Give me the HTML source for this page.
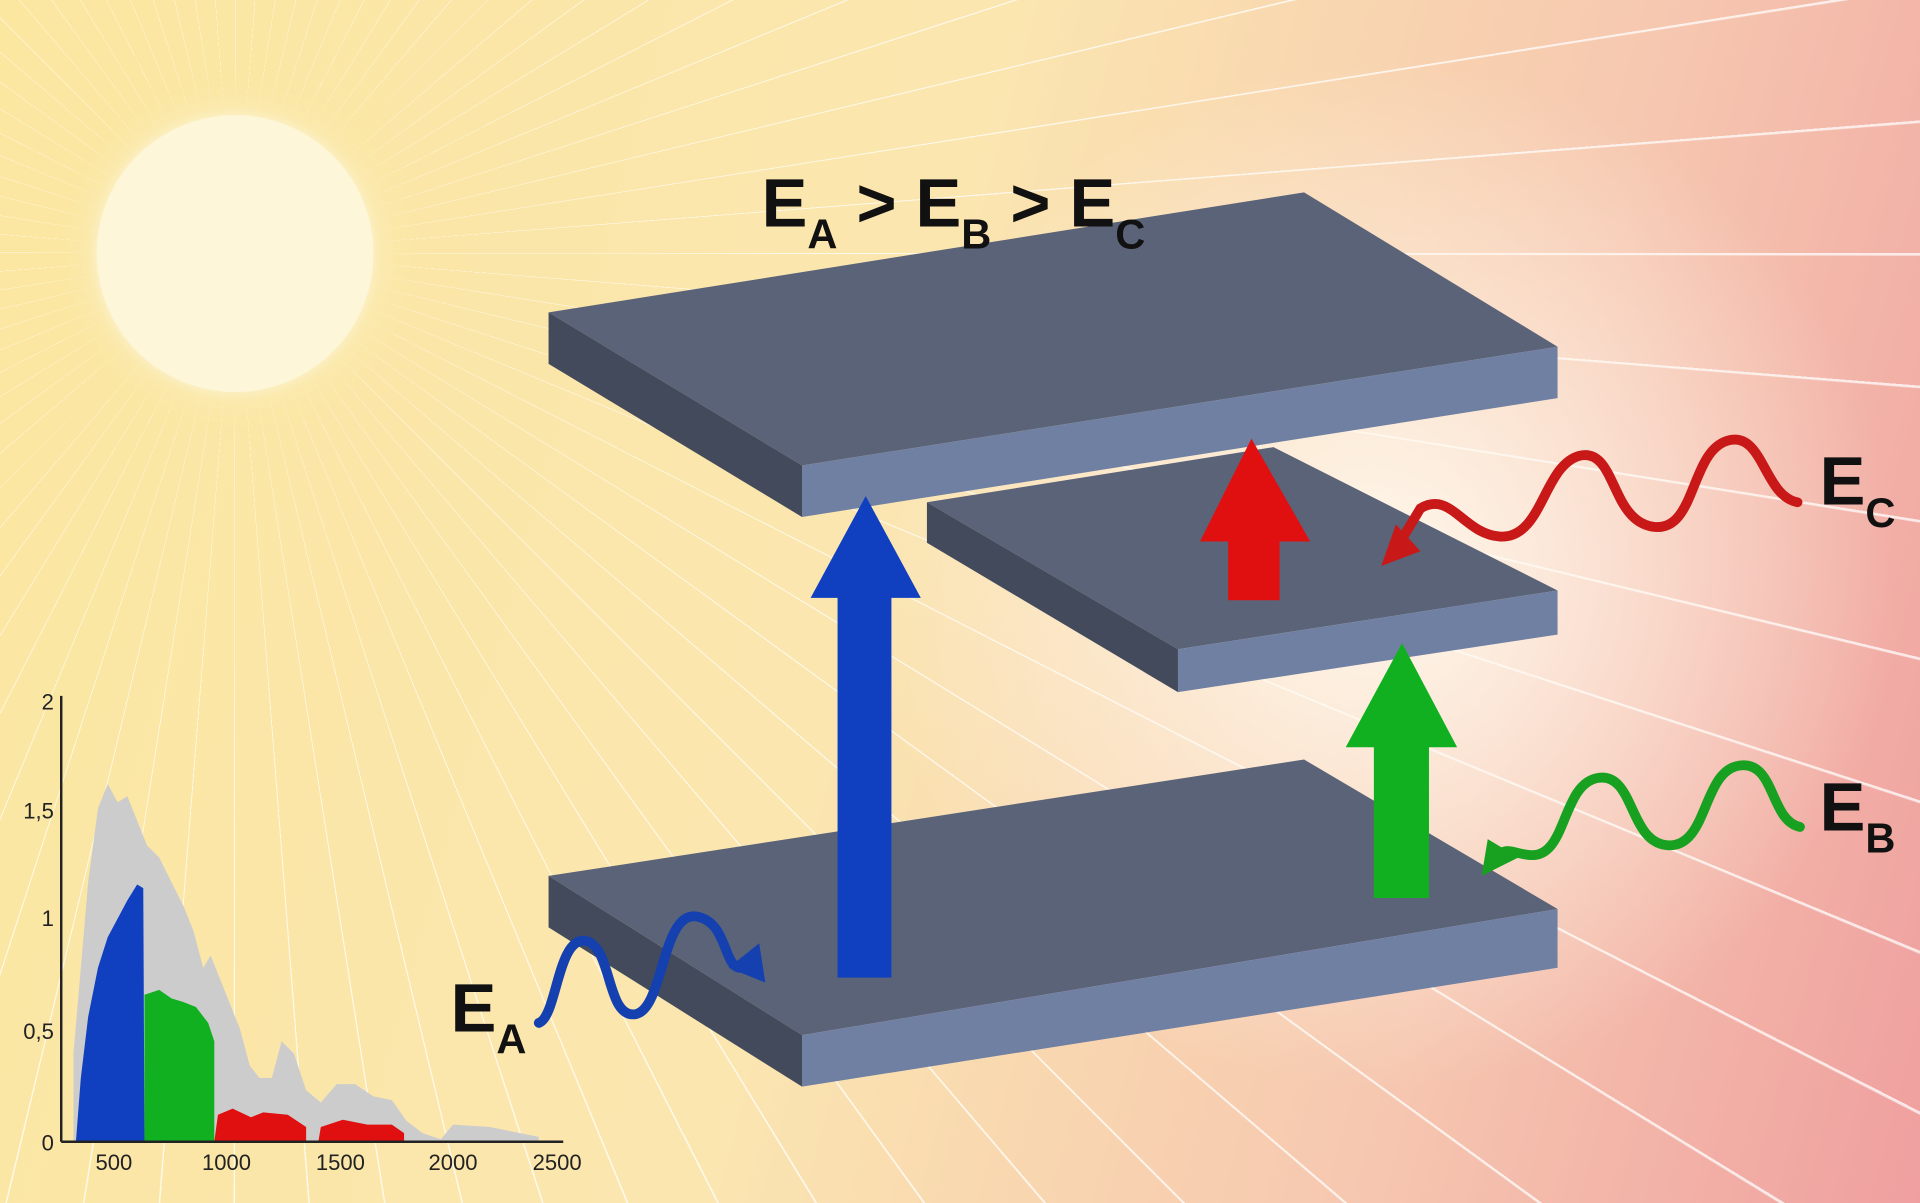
<!DOCTYPE html>
<html><head><meta charset="utf-8"><style>
html,body{margin:0;padding:0;overflow:hidden;width:1920px;height:1203px}
#bg{position:absolute;left:0;top:0;width:1920px;height:1203px;background:linear-gradient(105deg,#fbe7a0 0%,#fbe6b0 45%,#f6c7b0 75%,#ef9f9f 100%)}
#rays{position:absolute;left:0;top:0;width:1920px;height:1203px;background:repeating-conic-gradient(from 0deg at 235px 253px,rgba(255,255,255,0.75) 0deg 0.07deg,rgba(255,255,255,0) 0.11deg 4.5deg)}
svg{position:absolute;left:0;top:0;display:block}
</style></head>
<body>
<div id="bg"></div><div id="rays"></div>
<svg width="1920" height="1203" viewBox="0 0 1568 982" preserveAspectRatio="none" xmlns="http://www.w3.org/2000/svg" font-family="Liberation Sans, sans-serif">
<defs>
<radialGradient id="glow" cx="1130" cy="470" r="420" gradientUnits="userSpaceOnUse">
<stop offset="0" stop-color="#fffaf0" stop-opacity="0.95"/><stop offset="1" stop-color="#fffaf0" stop-opacity="0"/></radialGradient>
<radialGradient id="sun" cx="192" cy="207" r="150" gradientUnits="userSpaceOnUse">
<stop offset="0" stop-color="#fdf7dc"/><stop offset="0.72" stop-color="#fcf3cf"/><stop offset="0.8" stop-color="#fbeab0" stop-opacity="0.8"/><stop offset="1" stop-color="#fbe7a0" stop-opacity="0"/></radialGradient>
</defs>
<rect width="1568" height="982" fill="url(#glow)"/>
<circle cx="192" cy="207" r="150" fill="url(#sun)"/>
<circle cx="192" cy="207" r="113" fill="#fdf6d8"/>

<polygon points="448,715 1065,620 1272,742 655,845" fill="#5a6378"/>
<polygon points="655,845 1272,742 1272,790 655,887" fill="#7080a2"/>
<polygon points="448,715 655,845 655,887 448,757" fill="#424a5c"/>
<polygon points="757,410 1040,365 1272,482 962,530" fill="#5a6378"/>
<polygon points="962,530 1272,482 1272,518 962,565" fill="#7080a2"/>
<polygon points="757,410 962,530 962,565 757,443" fill="#424a5c"/>
<polygon points="448,255 1065,157 1272,283 655,380" fill="#5a6378"/>
<polygon points="655,380 1272,283 1272,325 655,422" fill="#7080a2"/>
<polygon points="448,255 655,380 655,422 448,297" fill="#424a5c"/>

<polygon points="684,798 728,798 728,488 752,488 707,405 662,488 684,488" fill="#1040c0"/>
<polygon points="1003,490 1045,490 1045,442 1070,442 1022,358 980,442 1003,442" fill="#e01010"/>
<polygon points="1122,733 1167,733 1167,610 1190,610 1145,525 1099,610 1122,610" fill="#10b020"/>

<g fill="none" stroke-width="8" stroke-linecap="round">
<path d="M1468,410 C1440,405 1440,350 1410,360 C1380,370 1385,435 1350,430 C1315,425 1320,365 1290,372 C1260,380 1260,440 1225,438 C1195,436 1185,400 1160,415 L1145,440" stroke="#c81818"/>
<path d="M1470,675 C1445,670 1450,620 1420,625 C1390,630 1395,692 1362,690 C1330,688 1335,630 1305,635 C1275,640 1280,700 1250,698 C1235,697 1230,690 1222,700" stroke="#18a020"/>
<path d="M440,835 C455,830 455,765 478,768 C500,772 495,830 518,828 C542,826 540,745 568,748 C595,752 590,790 605,790" stroke="#1440b0"/>
</g>
<polygon points="1128,462 1140,428 1160,450" fill="#c81818"/>
<polygon points="1210,715 1215,685 1240,700" fill="#18a020"/>
<polygon points="625,802 595,790 620,770" fill="#1440b0"/>

<g font-size="56" fill="#111" font-weight="bold">
<text x="622" y="185">E<tspan font-size="34" dy="18">A</tspan><tspan dy="-18"> &gt; E</tspan><tspan font-size="34" dy="18">B</tspan><tspan dy="-18"> &gt; E</tspan><tspan font-size="34" dy="18">C</tspan></text>
<text x="1486" y="412">E<tspan font-size="34" dy="18">C</tspan></text>
<text x="1486" y="678">E<tspan font-size="34" dy="18">B</tspan></text>
<text x="368" y="842">E<tspan font-size="34" dy="18">A</tspan></text>
</g>

<path d="M60,932 L60,860 L66,790 L72,720 L80,660 L88,640 L96,655 L104,650 L112,670 L120,690 L130,700 L140,720 L150,740 L158,760 L166,790 L172,780 L180,800 L188,820 L196,840 L204,870 L212,880 L222,880 L230,850 L240,860 L250,890 L262,900 L275,885 L290,885 L305,895 L320,898 L332,915 L345,925 L360,930 L370,918 L400,920 L440,928 L440,932 Z" fill="#cccccc"/>
<path d="M62,932 L66,880 L72,830 L80,790 L88,765 L96,750 L104,735 L112,722 L117,725 L118,932 Z" fill="#1040c0"/>
<path d="M118,932 L118,812 L130,808 L140,815 L150,818 L160,822 L170,835 L175,850 L175,932 Z" fill="#10b020"/>
<path d="M175,932 L178,910 L190,905 L205,912 L215,908 L235,910 L250,920 L250,932 Z" fill="#e01010"/>
<path d="M260,932 L262,920 L280,914 L300,918 L320,918 L330,925 L330,932 Z" fill="#e01010"/>
<g stroke="#222" stroke-width="2"><line x1="50" y1="568" x2="50" y2="932"/><line x1="50" y1="932" x2="460" y2="932"/></g>
<g font-size="18" fill="#222" text-anchor="end">
<text x="44" y="579">2</text><text x="44" y="668">1,5</text><text x="44" y="756">1</text><text x="44" y="848">0,5</text><text x="44" y="939">0</text>
</g>
<g font-size="18" fill="#222" text-anchor="middle">
<text x="93" y="955">500</text><text x="185" y="955">1000</text><text x="278" y="955">1500</text><text x="370" y="955">2000</text><text x="455" y="955">2500</text>
</g>
</svg>
</body></html>
